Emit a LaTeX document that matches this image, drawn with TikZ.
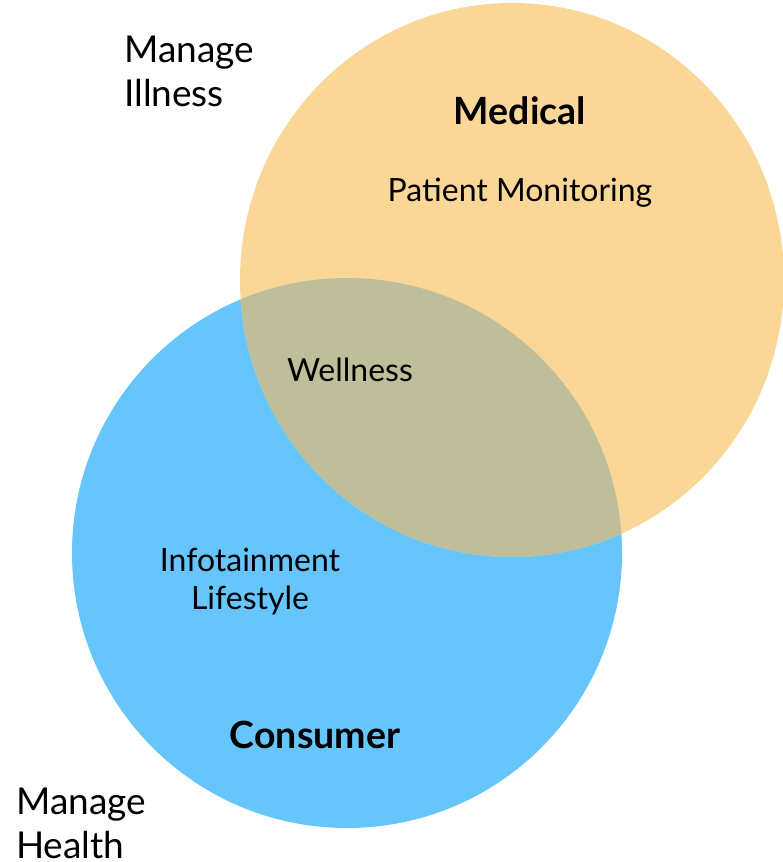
\documentclass[tikz,border=0pt]{standalone}
\usepackage{fontspec}
\setmainfont{Lato}
\definecolor{medfill}{RGB}{250,214,151}
\definecolor{confill}{RGB}{102,197,250}
\definecolor{bothfill}{RGB}{190,191,154}
\begin{document}
\begin{tikzpicture}[x=1pt,y=-1pt,
  lbl/.style={inner sep=0pt, text=black, font=\fontsize{32}{38}\selectfont, align=center},
  big/.style={inner sep=0pt, text=black, font=\bfseries\fontsize{37.5}{40}\selectfont},
  side/.style={inner sep=0pt, text=black, font=\fontsize{37}{44}\selectfont, align=left}]
\useasboundingbox (0,0) rectangle (783,862);
\path[fill=confill] (347,553) ellipse [x radius=275, y radius=275];
\path[fill=medfill] (512,280) ellipse [x radius=272, y radius=277];
\begin{scope}
  \clip (347,553) ellipse [x radius=275, y radius=275];
  \path[fill=bothfill] (512,280) ellipse [x radius=272, y radius=277];
\end{scope}
\node[big] (medical) at (520,111) {Medical};
\node[lbl] (pm) at (520,193) {Patient Monitoring};
\node[lbl] (well) at (350,370) {Wellness};
\node[lbl] (info) at (250,582) {Infotainment\\Lifestyle};
\node[big] (cons) at (315,735) {Consumer};
\node[side, anchor=west] (mi) at (124,71) {Manage\\Illness};
\node[side, anchor=west] (mh) at (16,823) {Manage\\Health};
\end{tikzpicture}
\end{document}
